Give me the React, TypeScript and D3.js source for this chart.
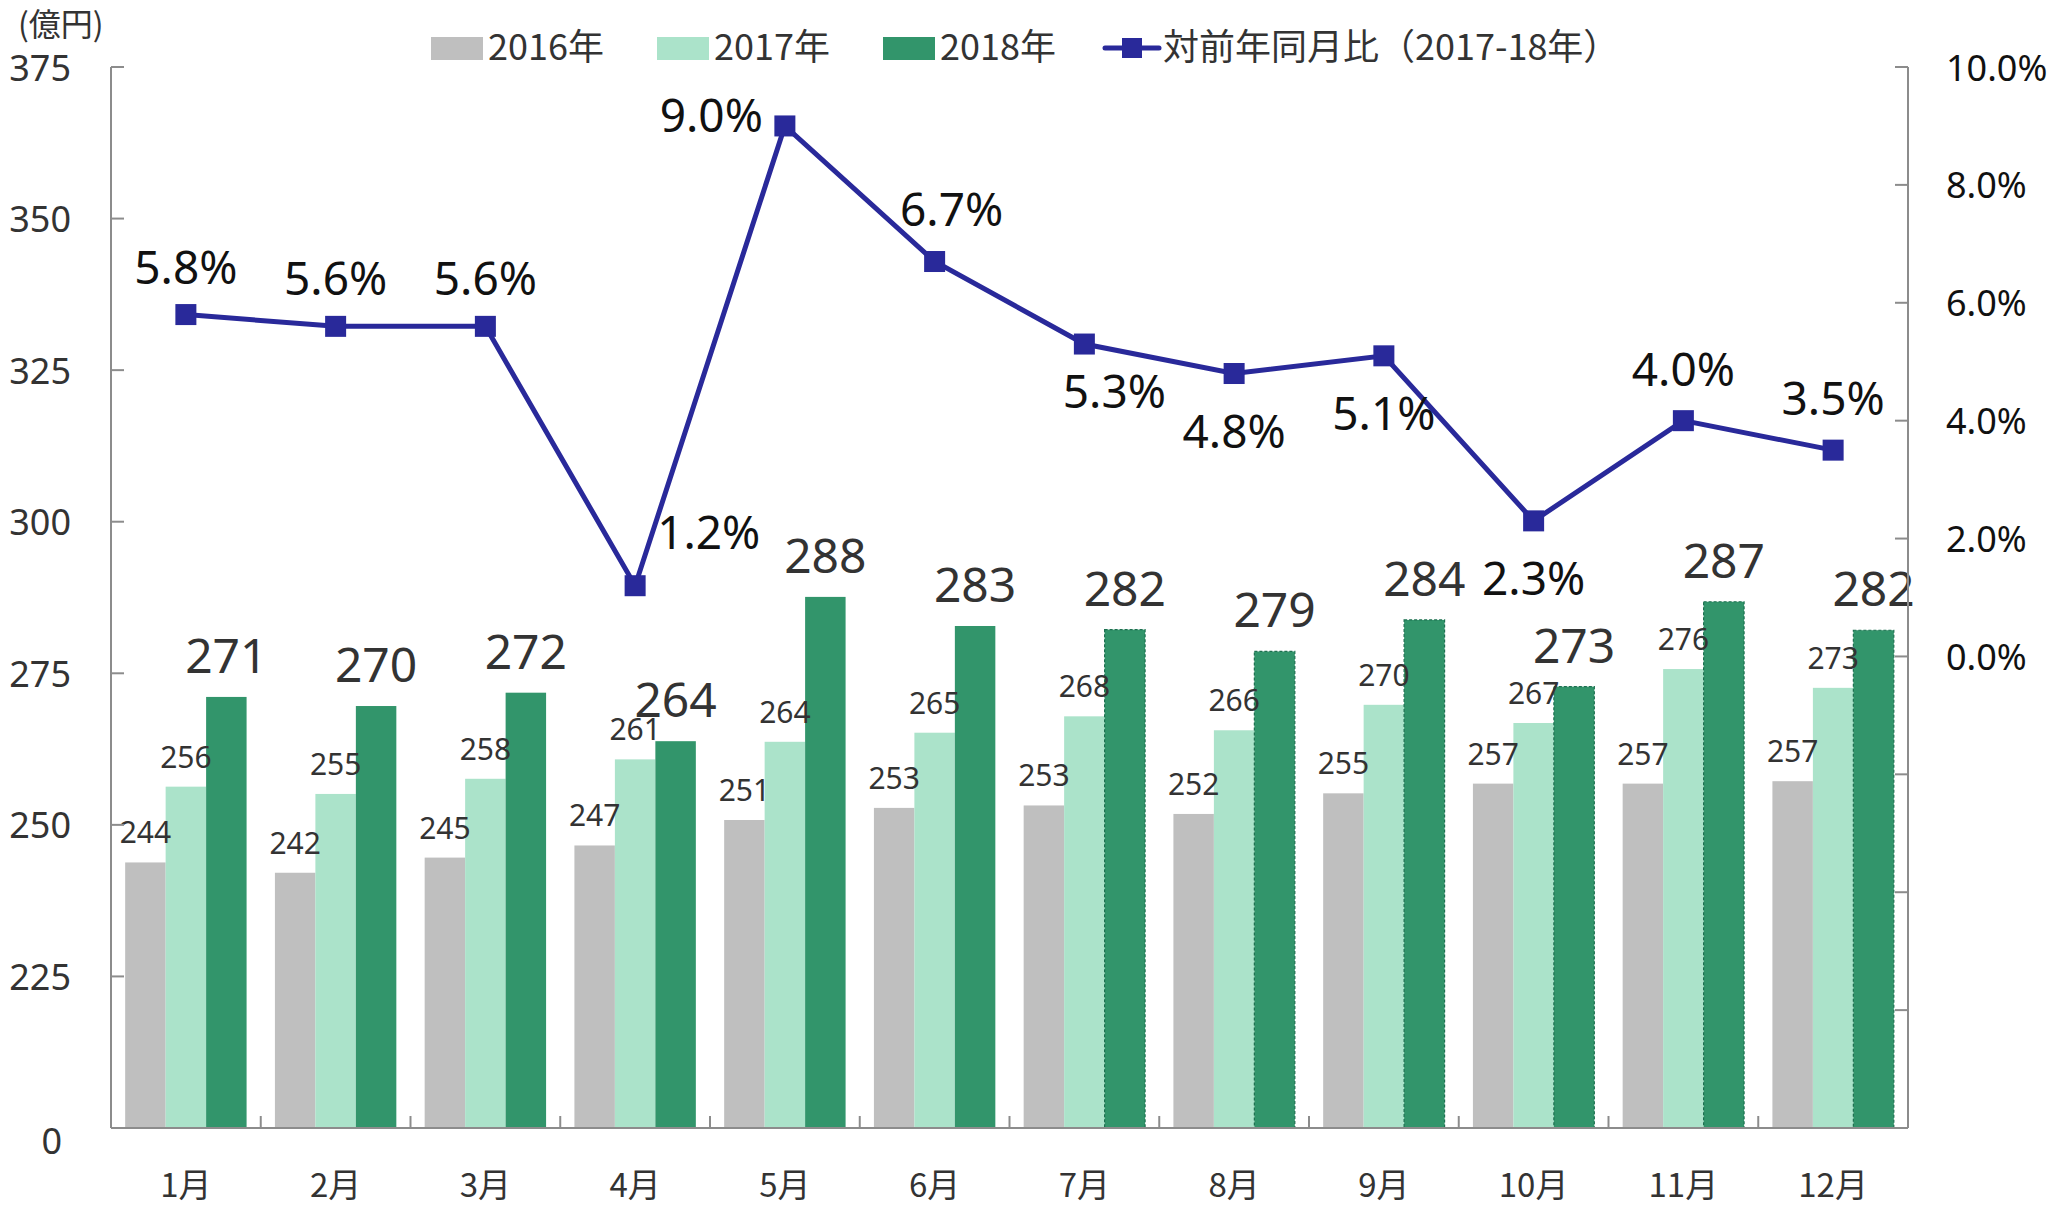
import React from "react";
import * as d3 from "d3";

const months = ["1月", "2月", "3月", "4月", "5月", "6月", "7月", "8月", "9月", "10月", "11月", "12月"];
const sales2016 = [243.8, 242.1, 244.6, 246.6, 250.8, 252.8, 253.2, 251.8, 255.2, 256.8, 256.8, 257.2];
const sales2017 = [256.3, 255.1, 257.6, 260.8, 263.7, 265.2, 267.9, 265.6, 269.8, 266.8, 275.7, 272.6];
const sales2018 = [271.1, 269.6, 271.8, 263.8, 287.6, 282.8, 282.2, 278.6, 283.8, 272.8, 286.8, 282.1];
const yoy = [5.8, 5.6, 5.6, 1.2, 9.0, 6.7, 5.3, 4.8, 5.1, 2.3, 4.0, 3.5];
const leftTicks = [200, 225, 250, 275, 300, 325, 350, 375];
const leftTickLabels = ["0", "225", "250", "275", "300", "325", "350", "375"];
const rightTicks = [-8, -6, -4, -2, 0, 2, 4, 6, 8, 10];
const seriesNames = ["2016年", "2017年", "2018年"];
const lineName = "対前年同月比（2017-18年）";
const unitLabel = "(億円)";
// placement of percentage labels relative to their markers
const pctPlacement = ["above", "above", "above", "aboveRight", "left", "aboveRightSmall", "belowRight", "below", "below", "below", "aboveHigh", "aboveHigh"];
const dashedFromIndex = 6; // 2018 bars from July have a dashed outline

const W = 2048;
const H = 1208;
const L = 111;
const R = 1908;
const T = 67;
const B = 1128;

const colors = ["#bfbfbf", "#abe3ca", "#32956b"];
const lineColor = "#29299a";
const axisColor = "#8c8c8c";
const NUM = "'Noto Sans', 'Noto Sans CJK JP', sans-serif";
const CJK = "'Noto Sans CJK JP', 'Noto Sans', sans-serif";

export default function App() {
  const x = d3.scaleBand<string>().domain(months).range([L, R]).padding(0);
  const inner = d3.scaleBand<number>().domain([0, 1, 2]).range([0, x.bandwidth()]).paddingInner(0).paddingOuter(0.35);
  const yL = d3.scaleLinear().domain([200, 375]).range([B, T]);
  const yR = d3.scaleLinear().domain([-8, 10]).range([B, T]);
  const series = [sales2016, sales2017, sales2018];
  const cx = (m: string) => (x(m) as number) + x.bandwidth() / 2;

  const line = d3
    .line<number>()
    .x((_, i) => cx(months[i]))
    .y((d) => yR(d));

  const placeOffset = (p: string) => {
    switch (p) {
      case "aboveRight":
        return { dx: 22, dy: -55, anchor: "start" };
      case "left":
        return { dx: -22, dy: -12, anchor: "end" };
      case "aboveRightSmall":
        return { dx: 17, dy: -54, anchor: "middle" };
      case "belowRight":
        return { dx: 30, dy: 46, anchor: "middle" };
      case "below":
        return { dx: 0, dy: 56, anchor: "middle" };
      case "aboveHigh":
        return { dx: 0, dy: -53, anchor: "middle" };
      default:
        return { dx: 0, dy: -49, anchor: "middle" };
    }
  };

  return (
    <svg width={W} height={H} style={{ position: "absolute", left: 0, top: 0, background: "#fff" }}>
      {/* bars */}
      {series.map((vals, s) =>
        vals.map((v, i) => {
          const bx = (x(months[i]) as number) + (inner(s) as number);
          const bw = inner.bandwidth();
          const top = yL(v);
          const dashed = s === 2 && i >= dashedFromIndex;
          return (
            <rect
              key={`b${s}-${i}`}
              x={bx}
              y={top}
              width={bw}
              height={B - top}
              fill={colors[s]}
              stroke={dashed ? "#1d7050" : "none"}
              strokeWidth={dashed ? 1.2 : 0}
              strokeDasharray={dashed ? "3,2" : undefined}
            />
          );
        })
      )}
      {/* bar labels */}
      {series.map((vals, s) =>
        vals.map((v, i) => {
          const bx = (x(months[i]) as number) + (inner(s) as number) + inner.bandwidth() / 2;
          const top = yL(v);
          const big = s === 2;
          return (
            <text
              key={`l${s}-${i}`}
              x={bx}
              y={top - (big ? 24 : 19)}
              textAnchor="middle"
              fontFamily={NUM}
              fontSize={big ? 48 : 30}
              fill="#333"
            >
              {Math.round(v)}
            </text>
          );
        })
      )}

      {/* axes */}
      <line x1={L} y1={T} x2={L} y2={B} stroke={axisColor} strokeWidth={2} />
      <line x1={R} y1={T} x2={R} y2={B} stroke={axisColor} strokeWidth={2} />
      <line x1={L} y1={B} x2={R} y2={B} stroke={axisColor} strokeWidth={2} />
      {leftTicks.map((t, i) => (
        <g key={`lt${t}`}>
          {i > 0 && <line x1={L} x2={L + 13} y1={yL(t)} y2={yL(t)} stroke={axisColor} strokeWidth={2} />}
          <text
            x={i === 0 ? 62 : 71}
            y={yL(t) + (i === 0 ? 12 : 0)}
            textAnchor="end"
            dominantBaseline="central"
            fontFamily={NUM}
            fontSize={36}
            fill="#333"
          >
            {leftTickLabels[i]}
          </text>
        </g>
      ))}
      {rightTicks.map((t, i) => (
        <g key={`rt${t}`}>
          {i > 0 && <line x1={R - 13} x2={R} y1={yR(t)} y2={yR(t)} stroke={axisColor} strokeWidth={2} />}
          {t >= 0 && (
            <text x={1946} y={yR(t)} dominantBaseline="central" fontFamily={NUM} fontSize={36} fill="#111">
              {d3.format(".1f")(t) + "%"}
            </text>
          )}
        </g>
      ))}
      {months.map((m, i) => (
        <g key={`c${m}`}>
          {i > 0 && (
            <line x1={x(m) as number} x2={x(m) as number} y1={B - 12} y2={B} stroke={axisColor} strokeWidth={2} />
          )}
          <text x={cx(m)} y={1183} textAnchor="middle" dominantBaseline="central" fontFamily={CJK} fontSize={33} fill="#333">
            {m}
          </text>
        </g>
      ))}
      <text x={18} y={36} fontFamily={CJK} fontSize={32} fill="#333">
        {unitLabel}
      </text>

      {/* line */}
      <path d={line(yoy) || ""} fill="none" stroke={lineColor} strokeWidth={5} />
      {yoy.map((v, i) => (
        <rect key={`m${i}`} x={cx(months[i]) - 10.5} y={yR(v) - 10.5} width={21} height={21} fill={lineColor} />
      ))}
      {yoy.map((v, i) => {
        const o = placeOffset(pctPlacement[i]);
        return (
          <text
            key={`p${i}`}
            x={cx(months[i]) + o.dx}
            y={yR(v) + o.dy}
            textAnchor={o.anchor as any}
            dominantBaseline="central"
            fontFamily={NUM}
            fontSize={46}
            fill="#111"
          >
            {d3.format(".1f")(v) + "%"}
          </text>
        );
      })}

      {/* legend */}
      {seriesNames.map((n, i) => {
        const lx = [431, 657, 883][i];
        return (
          <g key={`lg${i}`}>
            <rect x={lx} y={37} width={52} height={23} fill={colors[i]} />
            <text x={lx + 57} y={44} dominantBaseline="central" fontFamily={CJK} fontSize={36} fill="#333">
              {n}
            </text>
          </g>
        );
      })}
      <line x1={1105} x2={1159} y1={48} y2={48} stroke={lineColor} strokeWidth={5} strokeLinecap="round" />
      <rect x={1122} y={38} width={20} height={20} fill={lineColor} />
      <text x={1163} y={44} dominantBaseline="central" fontFamily={CJK} fontSize={36} fill="#333">
        {lineName}
      </text>
    </svg>
  );
}
